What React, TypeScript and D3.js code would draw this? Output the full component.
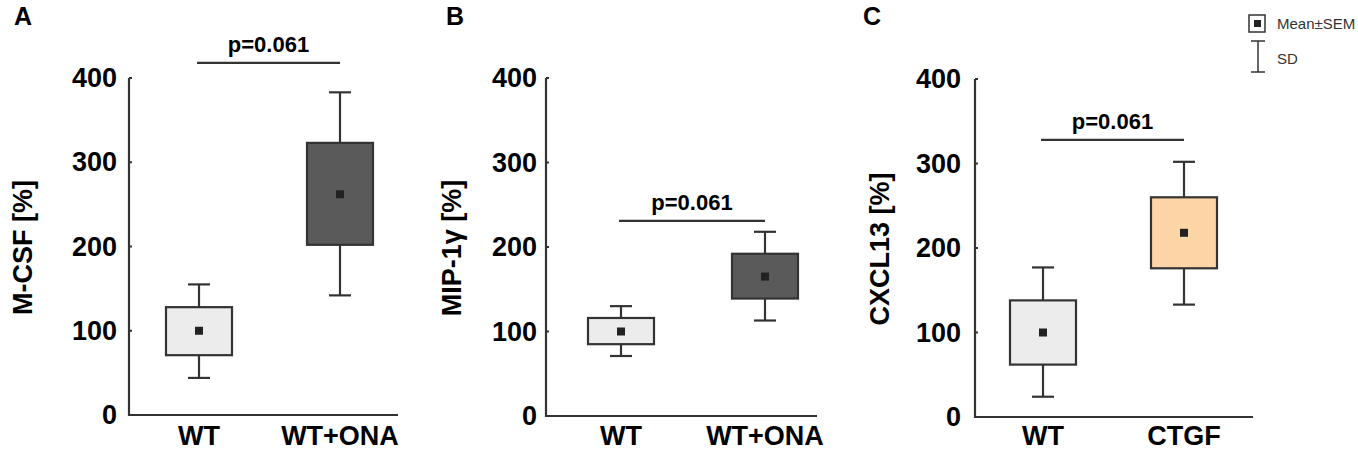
import React from "react";
import * as d3 from "d3";

// ---- data ----
const panelLetters = ["A", "B", "C"];
const yTitles = ["M-CSF [%]", "MIP-1γ [%]", "CXCL13 [%]"];
const categoriesA = ["WT", "WT+ONA"];
const categoriesB = ["WT", "WT+ONA"];
const categoriesC = ["WT", "CTGF"];
const yTicks = [0, 100, 200, 300, 400];

const meansA = [100, 262];
const semLowA = [71, 202];
const semHighA = [128, 323];
const sdLowA = [44, 142];
const sdHighA = [155, 383];

const meansB = [100, 165];
const semLowB = [85, 139];
const semHighB = [116, 192];
const sdLowB = [71, 113];
const sdHighB = [130, 218];

const meansC = [100, 218];
const semLowC = [62, 176];
const semHighC = [138, 260];
const sdLowC = [24, 133];
const sdHighC = [177, 302];

const pLabels = ["p=0.061", "p=0.061", "p=0.061"];
const pLevels = [418, 231, 328];

const fillsA = ["#ececec", "#5a5a5a"];
const fillsB = ["#ececec", "#5a5a5a"];
const fillsC = ["#ececec", "#fdd4a5"];

// ---- layout ----
const W = 1358;
const H = 451;
const FONT = "'Liberation Sans', Arial, sans-serif";
const STROKE = "#333";

const layouts = [
  { axisX: 129, axisEnd: 398, c1: 199, c2: 340, y0: 415, y400: 78, tickOff: 12, titleX: 23, letterX: 14 },
  { axisX: 546, axisEnd: 817, c1: 621, c2: 765, y0: 416, y400: 78, tickOff: 9, titleX: 452, letterX: 446 },
  { axisX: 975, axisEnd: 1253, c1: 1043, c2: 1184, y0: 417, y400: 79, tickOff: 14, titleX: 880, letterX: 863 },
];

const panels = [
  { cats: categoriesA, means: meansA, semL: semLowA, semH: semHighA, sdL: sdLowA, sdH: sdHighA, fills: fillsA },
  { cats: categoriesB, means: meansB, semL: semLowB, semH: semHighB, sdL: sdLowB, sdH: sdHighB, fills: fillsB },
  { cats: categoriesC, means: meansC, semL: semLowC, semH: semHighC, sdL: sdLowC, sdH: sdHighC, fills: fillsC },
];

const BOX_W = 66;
const CAP_W = 22;
const MEAN_S = 8;

function Panel({ idx }: { idx: number }) {
  const L = layouts[idx];
  const P = panels[idx];
  const y = d3.scaleLinear().domain([0, 400]).range([L.y0, L.y400]);
  const x = d3.scalePoint<string>().domain(P.cats).range([L.c1, L.c2]);
  const pY = y(pLevels[idx]);
  return (
    <g>
      <text x={L.letterX} y={25} fontFamily={FONT} fontWeight="bold" fontSize={25} fill="#000">
        {panelLetters[idx]}
      </text>
      <text
        transform={`translate(${L.titleX},${(L.y0 + L.y400) / 2 + 1}) rotate(-90)`}
        textAnchor="middle"
        dominantBaseline="central"
        fontFamily={FONT}
        fontWeight="bold"
        fontSize={27}
        fill="#000"
      >
        {yTitles[idx]}
      </text>
      {/* axes */}
      <path
        d={`M${L.axisX},${y(400)}V${y(0)}H${L.axisEnd}`}
        fill="none"
        stroke={STROKE}
        strokeWidth={2.2}
      />
      {yTicks.map((t) => (
        <g key={t}>
          <line x1={L.axisX} x2={L.axisX + 3} y1={y(t)} y2={y(t)} stroke={STROKE} strokeWidth={2} />
          <text
            x={L.axisX - L.tickOff}
            y={y(t)}
            textAnchor="end"
            dominantBaseline="central"
            fontFamily={FONT}
            fontWeight="bold"
            fontSize={27}
            fill="#000"
          >
            {t}
          </text>
        </g>
      ))}
      {P.cats.map((c, i) => {
        const cx = x(c) as number;
        return (
          <g key={c}>
            <line x1={cx} x2={cx} y1={y(P.sdH[i])} y2={y(P.sdL[i])} stroke={STROKE} strokeWidth={2.2} />
            <line x1={cx - CAP_W / 2} x2={cx + CAP_W / 2} y1={y(P.sdH[i])} y2={y(P.sdH[i])} stroke={STROKE} strokeWidth={2.2} />
            <line x1={cx - CAP_W / 2} x2={cx + CAP_W / 2} y1={y(P.sdL[i])} y2={y(P.sdL[i])} stroke={STROKE} strokeWidth={2.2} />
            <rect
              x={cx - BOX_W / 2}
              y={y(P.semH[i])}
              width={BOX_W}
              height={y(P.semL[i]) - y(P.semH[i])}
              fill={P.fills[i]}
              stroke={STROKE}
              strokeWidth={2.2}
            />
            <rect
              x={cx - MEAN_S / 2}
              y={y(P.means[i]) - MEAN_S / 2}
              width={MEAN_S}
              height={MEAN_S}
              fill="#222"
            />
            <text
              x={cx}
              y={445}
              textAnchor="middle"
              fontFamily={FONT}
              fontWeight="bold"
              fontSize={27}
              fill="#000"
            >
              {c}
            </text>
          </g>
        );
      })}
      {/* significance */}
      <line x1={(x(P.cats[0]) as number) - 2} x2={x(P.cats[1]) as number} y1={pY} y2={pY} stroke={STROKE} strokeWidth={2.2} />
      <text
        x={((x(P.cats[0]) as number) + (x(P.cats[1]) as number)) / 2 - 1}
        y={pY - 11}
        textAnchor="middle"
        fontFamily={FONT}
        fontWeight="bold"
        fontSize={22}
        fill="#000"
      >
        {pLabels[idx]}
      </text>
    </g>
  );
}

function Legend() {
  return (
    <g>
      <rect x={1249} y={15} width={16} height={17} fill="#fff" stroke={STROKE} strokeWidth={1.5} />
      <rect x={1254} y={20} width={7} height={7} fill="#222" />
      <text x={1277} y={29} fontFamily={FONT} fontSize={15} fill="#333">
        Mean±SEM
      </text>
      <line x1={1258} x2={1258} y1={41} y2={72} stroke={STROKE} strokeWidth={1.5} />
      <line x1={1251} x2={1265} y1={41} y2={41} stroke={STROKE} strokeWidth={1.5} />
      <line x1={1251} x2={1265} y1={72} y2={72} stroke={STROKE} strokeWidth={1.5} />
      <text x={1277} y={64} fontFamily={FONT} fontSize={15} fill="#333">
        SD
      </text>
    </g>
  );
}

export default function App() {
  return (
    <svg
      width={W}
      height={H}
      viewBox={`0 0 ${W} ${H}`}
      style={{ position: "absolute", left: 0, top: 0, background: "#fff" }}
    >
      <rect x={0} y={0} width={W} height={H} fill="#fff" />
      {[0, 1, 2].map((i) => (
        <Panel key={i} idx={i} />
      ))}
      <Legend />
    </svg>
  );
}
